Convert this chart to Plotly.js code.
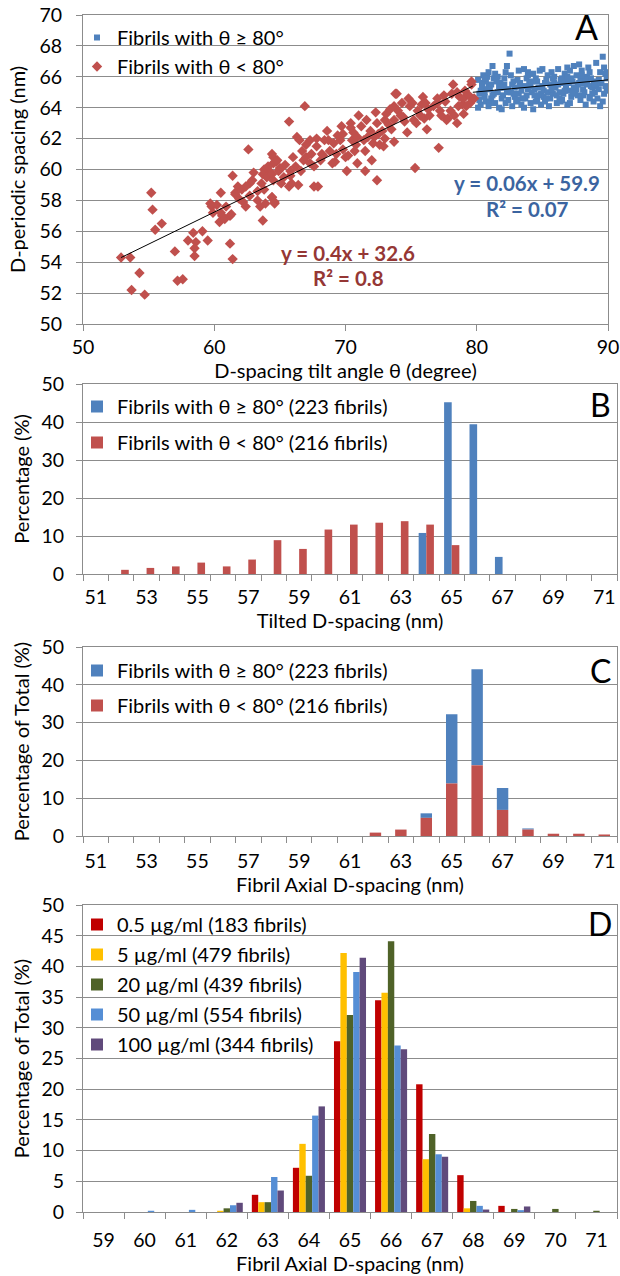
<!DOCTYPE html>
<html><head><meta charset="utf-8">
<script src="https://cdn.plot.ly/plotly-3.0.1.min.js"></script>
<style>html,body{margin:0;padding:0;background:#fff;}#chart{width:620px;height:1276px;}</style>
</head><body><div id="chart"></div>
<script>
// ---------- Panel A data ----------
const redX = [52.9,53.6,54.3,53.7,54.7,55.2,55.3,56.0,55.5,57.0,57.2,57.6,58.4,59.1,58.0,58.6,58.5,58.5,59.5,59.7,59.8,60.2,60.5,60.5,60.6,60.4,60.8,61.2,61.2,61.4,61.4,61.6,61.6,61.8,62.1,62.2,62.4,62.6,62.7,62.7,63.0,63.3,63.5,63.7,63.8,63.9,64.1,64.2,64.4,64.4,64.5,64.6,64.7,63.8,64.1,65.0,63.7,64.0,
64.6,64.4,64.5,64.8,64.4,65.0,65.3,65.7,65.9,65.7,65.8,66.0,66.4,66.3,66.5,66.7,66.8,66.9,67.0,67.3,67.4,67.6,67.6,67.9,67.8,68.1,68.2,68.4,68.7,68.8,69.1,69.2,69.3,69.6,69.7,69.8,70.0,70.1,70.2,70.4,70.5,70.6,70.7,70.9,70.9,71.0,71.2,71.4,71.5,71.5,71.7,71.9,72.0,72.1,72.3,72.4,72.4,72.5,72.6,72.8,72.9,73.0,73.1,73.3,73.5,73.7,73.7,73.7,73.8,73.9,74.0,74.2,74.3,74.5,74.7,74.8,74.9,75.1,75.3,75.4,75.5,75.7,75.8,75.9,76.0,76.1,76.2,76.4,76.7,77.0,77.1,77.2,77.3,77.5,77.6,77.7,77.8,78.0,78.1,78.2,78.3,78.5,78.6,78.7,78.9,79.0,79.1,79.2,79.4,79.5,79.6,79.6,
64.5,64.9,65.1,65.4,65.8,66.2,66.6,67.0,67.3,67.8,68.3,68.6,69.0,69.4,69.8,70.4,70.8,71.6,72.2,73.0,73.4,74.4,75.2,76.3,77.0,78.5,79.0,79.8,62.9,63.3,62.4,61.9,60.9,61.3,59.9,63.6];
const redY = [54.3,54.3,53.3,52.2,51.9,58.5,57.4,56.5,56.1,54.7,52.8,52.9,55.9,56.0,55.4,55.3,54.9,54.4,55.4,57.8,57.6,57.7,58.5,57.2,57.0,56.6,56.8,57.0,55.2,54.2,59.6,58.4,58.5,58.9,58.7,57.9,57.6,61.3,59.1,58.3,59.8,58.0,57.6,56.7,58.7,57.8,59.7,59.9,58.2,61.0,60.4,57.9,60.5,60.0,60.2,60.0,59.7,59.5,
57.8,58.2,60.8,60.6,59.7,60.1,59.5,58.9,59.1,63.1,59.9,60.8,59.0,62.1,61.9,61.2,60.6,64.1,60.8,61.9,61.0,60.2,58.9,58.9,61.5,60.6,61.0,61.9,61.9,61.2,61.7,60.5,61.0,61.9,62.8,62.3,60.8,59.9,60.9,63.0,61.9,62.4,61.2,60.4,62.1,63.5,62.8,61.9,61.2,59.9,62.1,62.5,60.6,61.7,63.7,63.0,59.3,62.3,61.6,62.5,61.5,63.2,63.6,62.9,62.6,63.2,64.1,61.8,64.9,64.9,63.8,63.5,64.3,63.1,62.4,64.6,64.1,64.3,60.1,63.0,63.8,63.5,64.2,64.7,63.3,64.3,62.6,63.5,64.1,64.3,61.4,63.8,63.5,64.8,64.4,63.2,63.3,63.8,64.9,65.5,63.5,63.0,64.1,64.7,64.2,64.6,65.1,64.1,64.8,64.3,65.5,65.7,
59.3,59.9,59.1,60.3,59.6,60.2,59.9,61.6,60.4,62.0,60.9,62.5,60.4,62.2,61.3,62.7,61.6,63.2,62.1,62.0,63.9,63.4,63.2,63.9,64.6,65.0,63.6,64.6,59.3,58.6,58.9,58.1,57.6,57.1,57.2,59.1];

const blueX = [80.1,80.2,80.3,80.4,80.5,80.2,80.4,80.1,80.6,80.7,80.8,80.9,80.6,80.9,80.7,81.0,81.1,81.2,81.3,81.4,81.1,81.3,81.4,81.6,81.7,81.8,81.9,81.6,81.8,81.9,82.0,82.1,82.2,82.3,82.4,82.1,82.4,82.2,82.5,82.6,82.7,82.8,82.9,82.6,82.9,83.0,83.1,83.2,83.3,83.4,83.2,83.4,83.6,83.7,83.8,83.9,83.6,83.8,83.9,84.0,84.1,84.2,84.3,84.4,84.1,84.3,84.5,84.6,84.7,84.8,84.9,84.6,84.9,85.0,85.1,85.2,85.3,85.4,85.1,85.4,85.5,85.6,85.7,85.8,85.9,85.6,85.9,86.0,86.1,86.2,86.3,86.4,86.1,86.4,86.5,86.6,86.7,86.8,86.9,86.6,86.9,87.0,87.1,87.2,87.3,87.4,87.1,87.4,87.5,87.6,87.7,87.8,87.9,87.6,87.9,88.0,88.1,88.2,88.3,88.4,88.1,88.4,88.5,88.6,88.7,88.8,88.9,88.6,88.9,89.0,89.1,89.2,89.3,89.4,89.1,89.4,89.5,89.6,89.7,89.8,89.9,89.6,89.9,89.7,
80.3,80.8,81.2,81.7,82.3,82.8,83.3,83.7,84.2,84.7,85.2,85.7,86.2,86.7,87.2,87.7,88.2,88.7,89.2,89.8,80.6,81.5,82.0,82.7,83.5,84.4,85.3,85.8,86.3,86.8,87.3,87.8,88.3,88.8,89.3,89.9,81.0,83.1,84.5,86.5,88.6,85.0,87.0,89.0,80.9,83.9,86.9,88.0];
const blueY = [65.8,64.9,64.2,65.3,66.1,64.5,65.6,64.0,65.0,64.4,66.0,65.4,64.7,64.1,65.7,65.2,64.6,66.7,65.9,64.3,65.5,64.9,66.2,65.0,64.0,65.6,64.6,66.0,65.3,63.9,64.8,65.9,64.3,66.7,65.2,65.5,64.5,66.3,67.5,65.0,64.1,65.7,64.7,66.1,65.3,64.4,65.8,64.9,65.4,64.2,66.4,65.1,66.5,64.6,65.9,65.2,64.0,64.8,66.1,65.6,64.3,65.0,66.2,64.8,65.4,63.9,65.9,64.5,65.3,66.4,64.9,65.7,64.2,66.5,65.1,64.4,65.8,65.0,64.7,66.1,64.1,65.5,66.3,64.9,65.6,64.6,66.0,65.3,64.3,66.5,65.0,65.8,64.8,64.4,65.9,64.9,66.2,65.4,64.2,65.6,66.6,65.1,66.4,64.7,65.7,66.7,64.3,65.3,64.9,66.1,65.5,66.8,64.5,65.2,65.9,66.4,64.8,65.6,64.2,66.0,65.2,65.5,66.6,64.7,65.9,65.3,64.4,66.3,65.7,65.0,66.9,64.6,65.8,66.3,65.4,64.1,65.6,67.3,64.9,66.2,65.1,64.4,65.9,66.6,
65.1,65.2,64.8,65.4,65.0,64.9,65.6,65.4,65.7,64.8,65.6,65.2,65.5,65.1,65.9,64.8,65.0,65.4,65.6,65.4,65.9,65.7,65.3,65.5,64.6,65.2,64.6,65.9,64.6,65.7,65.0,65.6,65.8,64.9,65.2,66.3,64.3,64.5,64.4,64.5,64.6,65.4,65.6,65.5,66.3,66.3,66.0,66.1];

const trendRedX = [52.9, 79.7];
const trendRedY = [54.3, 65.4];
const trendBlueX = [79.7, 90.0];
const trendBlueY = [65.0, 65.8];

// ---------- Panel B data ----------
const catsB = [51,52,53,54,55,56,57,58,59,60,61,62,63,64,65,66,67,68,69,70,71];
const tickLabelsB = [51,53,55,57,59,61,63,65,67,69,71];
const bBlue = [0,0,0,0,0,0,0,0,0,0,0,0,0,10.8,45.2,39.4,4.5,0,0,0,0];
const bRed  = [0,1.1,1.6,2.0,3.0,2.0,3.8,8.9,6.6,11.7,13.0,13.5,13.9,13.0,7.6,0,0,0,0,0,0];

// ---------- Panel C data ----------
const catsC = catsB;
const cRed  = [0,0,0,0,0,0,0,0,0,0,0,0.9,1.7,4.8,13.9,18.7,6.9,1.7,0.6,0.6,0.4];
const cBlue = [0,0,0,0,0,0,0,0,0,0,0,0,0,1.2,18.3,25.4,5.8,0.3,0,0,0];

// ---------- Panel D data ----------
const catsD = [59,60,61,62,63,64,65,66,67,68,69,70,71];
const d05  = [0,0,0,0,2.8,7.2,27.8,34.5,20.8,6.0,1.0,0,0];
const d5   = [0,0,0,0.2,1.6,11.1,42.2,35.7,8.6,0.6,0,0,0];
const d20  = [0,0,0,0.6,1.6,5.9,32.1,44.1,12.7,1.8,0.5,0.5,0.2];
const d50  = [0,0.2,0.35,1.1,5.7,15.7,39.1,27.1,9.4,1.0,0.3,0,0];
const d100 = [0,0,0,1.5,3.5,17.2,41.4,26.5,9.0,0.4,0.9,0,0];
const dNames = ['0.5 µg/ml (183 fibrils)','5 µg/ml (479 fibrils)','20 µg/ml (439 fibrils)','50 µg/ml (554 fibrils)','100 µg/ml (344 fibrils)'];

// ---------- styling ----------
const W = 620, H = 1276;
const FONT = 'Lato, "Open Sans", sans-serif';
const GRID = '#8c8c8c';
const BLUE = '#4F81BD', RED = '#C0504D';
const dColors = ['#C00000','#FFC000','#4F6228','#558ED5','#604A7B'];
const px = x => x / W;
const py = y => 1 - y / H;
const xd = (a, b) => [a / W, b / W];
const yd = (top, bottom) => [1 - bottom / H, 1 - top / H];
const tf = {family: FONT, size: 19.5, color: '#000'};
const lf = {family: FONT, size: 20, color: '#000'};

function baseAxis(extra) {
  return Object.assign({
    showline: true, linecolor: GRID, linewidth: 1, mirror: true,
    zeroline: false, tickfont: tf, tickcolor: GRID, gridcolor: GRID, gridwidth: 1,
    fixedrange: true
  }, extra);
}
function catAxis(domainX, anchor, range, tickvals, title, standoff) {
  return baseAxis({
    domain: domainX, anchor: anchor, range: range, tickmode: 'array', tickvals: tickvals,
    ticks: '', showgrid: false, ticklabelstandoff: standoff,
    minor: {tickmode: 'linear', tick0: 0.5, dtick: 1, ticks: 'outside', ticklen: 6, tickcolor: GRID, showgrid: false},
    title: {text: title, font: lf, standoff: 1}
  });
}

const traces = [];
// Panel A
traces.push({type: 'scatter', mode: 'markers', x: blueX, y: blueY, name: 'Fibrils with θ ≥ 80°',
  marker: {symbol: 'square', size: 6, color: BLUE}, xaxis: 'x', yaxis: 'y', legend: 'legend'});
traces.push({type: 'scatter', mode: 'markers', x: redX, y: redY, name: 'Fibrils with θ < 80°',
  marker: {symbol: 'diamond', size: 8, color: RED}, xaxis: 'x', yaxis: 'y', legend: 'legend'});
traces.push({type: 'scatter', mode: 'lines', x: trendRedX, y: trendRedY, line: {color: '#000', width: 1},
  showlegend: false, xaxis: 'x', yaxis: 'y'});
traces.push({type: 'scatter', mode: 'lines', x: trendBlueX, y: trendBlueY, line: {color: '#000', width: 1},
  showlegend: false, xaxis: 'x', yaxis: 'y'});
// Panel B
traces.push({type: 'bar', x: catsB, y: bBlue, name: 'Fibrils with θ ≥ 80° (223 fibrils)', marker: {color: BLUE},
  width: 0.3, offset: -0.3, xaxis: 'x2', yaxis: 'y2', legend: 'legend2', legendgroup: 'b1'});
traces.push({type: 'bar', x: catsB, y: bRed, name: 'Fibrils with θ < 80° (216 fibrils)', marker: {color: RED},
  width: 0.3, offset: 0, xaxis: 'x2', yaxis: 'y2', legend: 'legend2', legendgroup: 'b2'});
// Panel C (stacked: blue segment sits on red)
traces.push({type: 'bar', x: catsC, y: cBlue, base: cRed, name: 'Fibrils with θ ≥ 80° (223 fibrils)', marker: {color: BLUE},
  width: 0.45, offset: -0.225, xaxis: 'x3', yaxis: 'y3', legend: 'legend3', legendgroup: 'c1'});
traces.push({type: 'bar', x: catsC, y: cRed, name: 'Fibrils with θ < 80° (216 fibrils)', marker: {color: RED},
  width: 0.45, offset: -0.225, xaxis: 'x3', yaxis: 'y3', legend: 'legend3', legendgroup: 'c2'});
// Panel D
[d05, d5, d20, d50, d100].forEach((vals, i) => {
  traces.push({type: 'bar', x: catsD, y: vals, name: dNames[i], marker: {color: dColors[i]},
    width: 0.156, offset: -0.39 + i * 0.156, xaxis: 'x4', yaxis: 'y4', legend: 'legend4', legendgroup: 'd' + i});
});

const legendBase = {xanchor: 'left', yanchor: 'top', bgcolor: 'rgba(0,0,0,0)', borderwidth: 0, font: lf, itemclick: false, itemdoubleclick: false};
const ann = (x, y, text, size, color) => ({xref: 'paper', yref: 'paper', x: px(x), y: py(y), xanchor: 'center', yanchor: 'middle',
  text: text, showarrow: false, font: {family: FONT, size: size, color: color}});

const layout = {
  width: W, height: H, margin: {l: 0, r: 0, t: 0, b: 0},
  paper_bgcolor: '#fff', plot_bgcolor: '#fff', barmode: 'overlay',
  font: {family: FONT, color: '#000'}, showlegend: true,
  xaxis: baseAxis({domain: xd(83, 608), anchor: 'y', range: [50, 90], tick0: 50, dtick: 10,
    ticks: 'outside', ticklen: 6, showgrid: false,
    title: {text: 'D-spacing tilt angle θ (degree)', font: lf, standoff: 3}}),
  yaxis: baseAxis({domain: yd(15, 324), anchor: 'x', range: [50, 70], tick0: 50, dtick: 2,
    ticks: 'outside', ticklen: 6, ticklabelstandoff: 10,
    title: {text: 'D-periodic spacing (nm)', font: lf, standoff: 8}}),
  xaxis2: catAxis(xd(83, 617), 'y2', [50.5, 71.5], tickLabelsB, 'Tilted D-spacing (nm)', 6),
  yaxis2: baseAxis({domain: yd(384, 574), anchor: 'x2', range: [0, 50], dtick: 10, ticks: 'outside', ticklen: 6,
    ticklabelstandoff: 8, title: {text: 'Percentage (%)', font: lf, standoff: 6}}),
  xaxis3: catAxis(xd(83, 617), 'y3', [50.5, 71.5], tickLabelsB, 'Fibril Axial D-spacing (nm)', 8),
  yaxis3: baseAxis({domain: yd(647, 836), anchor: 'x3', range: [0, 50], dtick: 10, ticks: 'outside', ticklen: 6,
    ticklabelstandoff: 8, title: {text: 'Percentage of Total (%)', font: lf, standoff: 6}}),
  xaxis4: catAxis(xd(83, 617), 'y4', [58.5, 71.5], catsD, 'Fibril Axial D-spacing (nm)', 11),
  yaxis4: baseAxis({domain: yd(905, 1212), anchor: 'x4', range: [0, 50], dtick: 5, ticks: 'outside', ticklen: 6,
    ticklabelstandoff: 8, title: {text: 'Percentage of Total (%)', font: lf, standoff: 6}}),
  legend: Object.assign({}, legendBase, {x: px(77), y: py(18), tracegroupgap: 0}),
  legend2: Object.assign({}, legendBase, {x: px(77), y: py(387), tracegroupgap: 7}),
  legend3: Object.assign({}, legendBase, {x: px(77), y: py(651), tracegroupgap: 6}),
  legend4: Object.assign({}, legendBase, {x: px(77), y: py(905), tracegroupgap: 1}),
  annotations: [
    ann(586, 26, 'A', 34, '#000'),
    ann(600, 404, 'B', 32, '#000'),
    ann(600, 670, 'C', 32, '#000'),
    ann(600, 923, 'D', 32, '#000'),
    ann(527, 183, '<b>y = 0.06x + 59.9</b>', 20.5, '#3B64A0'),
    ann(527, 209, '<b>R² = 0.07</b>', 20.5, '#3B64A0'),
    ann(348, 253, '<b>y = 0.4x + 32.6</b>', 20.5, '#953735'),
    ann(348, 278, '<b>R² = 0.8</b>', 20.5, '#953735')
  ]
};

Plotly.newPlot('chart', traces, layout, {displayModeBar: false, staticPlot: true});
</script></body></html>
